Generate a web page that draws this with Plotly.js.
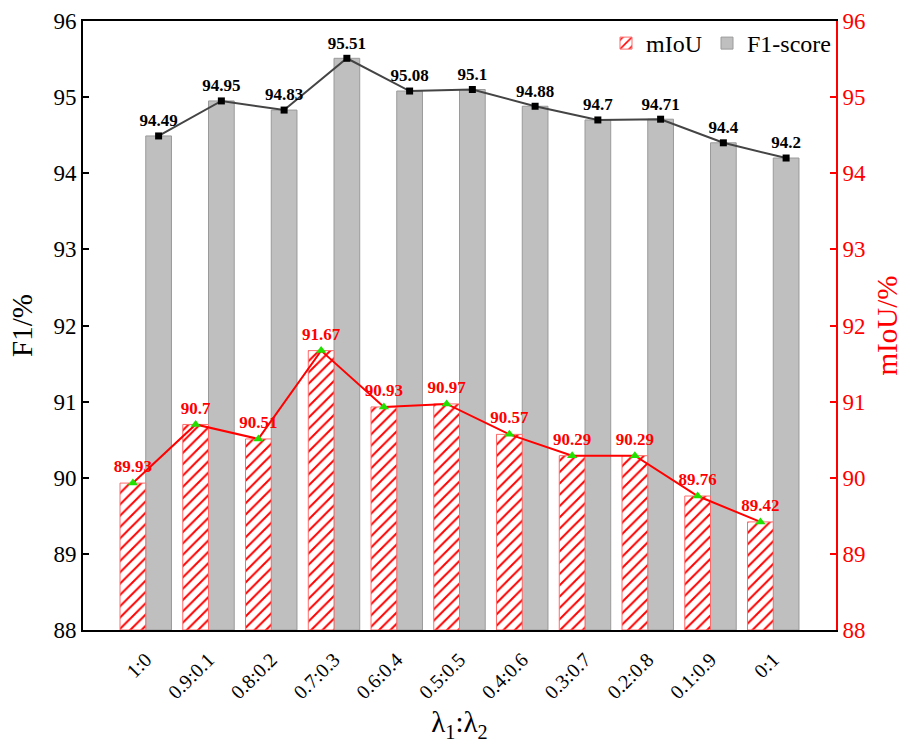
<!DOCTYPE html>
<html><head><meta charset="utf-8">
<script src="https://cdn.plot.ly/plotly-3.0.1.min.js"></script>
<style>body{margin:0;background:#fff}#c{width:910px;height:747px}</style>
</head><body><div id="c"></div>
<script>
const categories = ["1:0","0.9:0.1","0.8:0.2","0.7:0.3","0.6:0.4","0.5:0.5","0.4:0.6","0.3:0.7","0.2:0.8","0.1:0.9","0:1"];
const f1Values = [94.49,94.95,94.83,95.51,95.08,95.1,94.88,94.7,94.71,94.4,94.2];
const miouValues = [89.93,90.7,90.51,91.67,90.93,90.97,90.57,90.29,90.29,89.76,89.42];
const yTicks = [88,89,90,91,92,93,94,95,96];

const BW = 0.41;
const idx = categories.map((c,i)=>i);
const font = "Liberation Serif";

const traces = [
  {type:'bar', name:'mIoU', x:idx, y:miouValues.map(v=>v-88), base:88, yaxis:'y2',
   offset:-BW, width:BW,
   marker:{color:'rgba(255,255,255,1)', line:{color:'#ff6b6b', width:1},
     pattern:{shape:'/', fgcolor:'#ff0000', bgcolor:'#ffffff', size:8, solidity:0.25}},
   hoverinfo:'skip'},
  {type:'bar', name:'F1-score', x:idx, y:f1Values.map(v=>v-88), base:88, yaxis:'y',
   offset:0, width:BW,
   marker:{color:'#bfbfbf', line:{color:'#9a9a9a', width:1}}, hoverinfo:'skip'},
  {type:'scatter', mode:'lines+markers+text', x:idx.map(i=>i+BW/2), y:f1Values, yaxis:'y',
   showlegend:false, line:{color:'#444444', width:2},
   marker:{symbol:'square', color:'#000000', size:7},
   text:f1Values.map(String), textposition:'top center',
   textfont:{family:font, size:17, color:'#000000', weight:'bold'}},
  {type:'scatter', mode:'lines+markers+text', x:idx.map(i=>i-BW/2), y:miouValues, yaxis:'y2',
   showlegend:false, line:{color:'#ff0000', width:2},
   marker:{symbol:'triangle-up', color:'#22e000', size:9},
   text:miouValues.map(String), textposition:'top center',
   textfont:{family:font, size:17, color:'#ff0000', weight:'bold'}}
];

const layout = {
  width:910, height:747,
  margin:{l:83, r:74, t:21, b:117},
  paper_bgcolor:'#fff', plot_bgcolor:'#fff',
  font:{family:font, color:'#000'},
  barmode:'overlay',
  showlegend:true,
  legend:{orientation:'h', x:1, xanchor:'right', y:1, yanchor:'top',
    font:{family:font, size:24, color:'#000'}, bgcolor:'rgba(0,0,0,0)', traceorder:'normal'},
  xaxis:{range:[-1,11], tickmode:'array', tickvals:idx, ticktext:categories, tickangle:-45,
    showgrid:false, zeroline:false, showline:true, linecolor:'#000', linewidth:2,
    mirror:true, ticks:'outside', ticklen:8, tickcolor:'rgba(0,0,0,0)',
    tickfont:{family:font, size:20, color:'#000'},
    title:{text:'λ<sub>1</sub>:λ<sub>2</sub>', font:{family:font, size:29, color:'#000'}, standoff:10}},
  yaxis:{range:[88,96], tickvals:yTicks, showgrid:false, zeroline:false, showline:true,
    linecolor:'#000', linewidth:2, ticks:'inside', ticklen:6, tickwidth:2, tickcolor:'#000',
    tickfont:{family:font, size:23, color:'#000'},
    title:{text:'F1/%', font:{family:font, size:29, color:'#000'}, standoff:12}},
  yaxis2:{range:[88,96], tickvals:yTicks, overlaying:'y', side:'right', showgrid:false,
    zeroline:false, showline:true, linecolor:'#ff0000', linewidth:2, ticks:'inside',
    ticklen:6, tickwidth:2, tickcolor:'#ff0000',
    tickfont:{family:font, size:23, color:'#ff0000'},
    title:{text:'mIoU/%', font:{family:font, size:29, color:'#ff0000'}, standoff:12}}
};
Plotly.newPlot('c', traces, layout, {displayModeBar:false});
</script></body></html>
